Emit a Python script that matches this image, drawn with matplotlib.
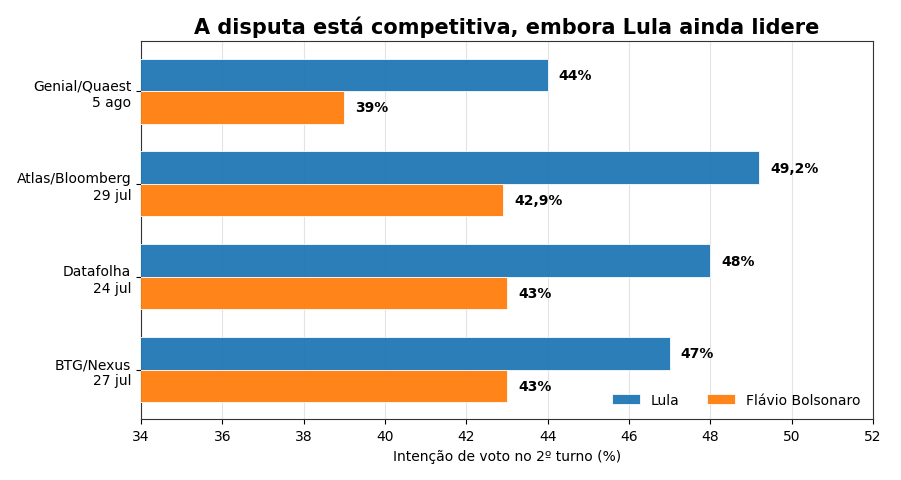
import matplotlib
matplotlib.use("Agg")
import matplotlib.pyplot as plt
import numpy as np

categories = ["Genial/Quaest\n5 ago", "Atlas/Bloomberg\n29 jul", "Datafolha\n24 jul", "BTG/Nexus\n27 jul"]
lula = [44, 49.2, 48, 47]
flavio = [39, 42.9, 43, 43]
lula_labels = ["44%", "49,2%", "48%", "47%"]
flavio_labels = ["39%", "42,9%", "43%", "43%"]

fig, ax = plt.subplots(figsize=(9.01, 4.81), dpi=100)
fig.subplots_adjust(left=0.1565, right=0.969, top=0.912, bottom=0.126)

y = np.arange(len(categories))
h = 0.35
ax.barh(y - h/2, lula, height=h, color="#1f77b4", edgecolor="white", linewidth=0.6, alpha=0.95, label="Lula", zorder=3)
ax.barh(y + h/2, flavio, height=h, color="#ff7f0e", edgecolor="white", linewidth=0.6, alpha=0.95, label="Flávio Bolsonaro", zorder=3)

for yi, v, t in zip(y - h/2, lula, lula_labels):
    ax.text(v + 0.27, yi, t, va="center", ha="left", fontsize=10, fontweight="bold")
for yi, v, t in zip(y + h/2, flavio, flavio_labels):
    ax.text(v + 0.27, yi, t, va="center", ha="left", fontsize=10, fontweight="bold")

ax.set_yticks(y)
ax.set_yticklabels(categories, fontsize=10)
ax.invert_yaxis()
ax.set_xlim(34, 52)
ax.set_xticks(np.arange(34, 53, 2))
ax.tick_params(axis="x", labelsize=10)
ax.grid(axis="x", color="#dddddd", linewidth=0.8, alpha=0.8, zorder=0)
ax.set_axisbelow(True)
ax.set_xlabel("Intenção de voto no 2º turno (%)", fontsize=10)
ax.set_title("A disputa está competitiva, embora Lula ainda lidere", fontsize=15, fontweight="bold")
for s in ax.spines.values():
    s.set_color("#333333")
ax.legend(loc="lower right", ncol=2, frameon=False, fontsize=10)

fig.savefig("out.png", dpi=100)
